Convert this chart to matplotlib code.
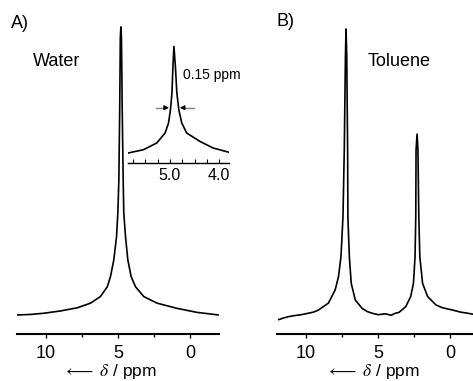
import matplotlib
matplotlib.use("Agg")
import matplotlib.pyplot as plt

plt.rcParams['font.family'] = ['Liberation Sans', 'DejaVu Sans']
plt.rcParams['mathtext.fontset'] = 'stix'

# water spectrum (ppm, intensity)
water_ppm = [11.95, 11.0, 10.12, 8.97, 7.81, 6.90, 6.21, 5.74, 5.52, 5.29, 5.10, 5.01,
             4.94, 4.88, 4.84, 4.80, 4.76, 4.71, 4.64, 4.60, 4.48, 4.32, 4.09, 3.79,
             3.22, 2.30, 0.92, -0.46, -1.95]
water_int = [0.0, 0.2, 0.6, 1.4, 2.5, 4.1, 6.4, 9.8, 13.3, 19.1, 27.2, 35.4,
             46.9, 72.0, 96.0, 100.0, 96.0, 72.0, 46.9, 35.4, 27.2, 19.1, 13.3, 9.8,
             6.4, 4.1, 2.3, 0.9, 0.0]

# inset: zoom of the water line
inset_ppm = [5.85, 5.54, 5.27, 5.10, 5.03, 4.99, 4.96, 4.94, 4.92, 4.89, 4.86, 4.82,
             4.76, 4.66, 4.39, 4.12, 3.79]
inset_int = [9.7, 13.0, 19.7, 29.7, 39.7, 53.0, 69.7, 96.3, 116.3, 96.3, 69.7, 53.0,
             39.7, 29.7, 21.3, 14.7, 10.3]
inset_ticks = [5.75, 5.5, 5.25, 5.0, 4.75, 4.5, 4.25, 4.0]
inset_ticklabels = ['', '', '', '5.0', '', '', '', '4.0']

# toluene spectrum
tol_ppm = [11.85, 11.56, 11.2, 10.75, 10.3, 9.82, 9.45, 9.12, 8.43, 7.96, 7.73, 7.56,
           7.42, 7.33, 7.25, 7.21, 7.16, 7.10, 7.08, 6.98, 6.85, 6.57, 6.10, 5.75,
           5.40, 5.0, 4.48, 4.1, 3.80, 3.55, 3.08, 2.74, 2.55, 2.44, 2.39, 2.37,
           2.30, 2.24, 2.18, 2.11, 1.92, 1.57, 1.00, 0.6, 0.2, -0.17, -0.7, -1.2, -1.65]
tol_int = [-1.6, -1.1, -0.6, -0.2, 0.1, 0.6, 1.0, 1.7, 4.1, 8.7, 13.3, 20.2,
           34.1, 57.3, 90.0, 99.3, 90.0, 57.3, 34.1, 20.2, 11.0, 5.2, 2.3, 1.2,
           0.6, 0.1, 0.4, -0.1, 0.6, 0.9, 2.9, 6.4, 11.0, 20.2, 34.1, 57.3,
           62.8, 57.3, 34.1, 20.2, 11.0, 6.4, 3.5, 2.6, 2.1, 1.7, 1.0, 0.6, 0.2]

major_ticks = [10, 5, 0]
minor_ticks = [7.5, 2.5]

fig = plt.figure(figsize=(4.73, 3.81), dpi=100)

def style_axis(ax):
    for s in ['top', 'left', 'right']:
        ax.spines[s].set_visible(False)
    ax.spines['bottom'].set_linewidth(1.5)
    ax.set_yticks([])
    ax.patch.set_visible(False)
    ax.set_xlim(12, -2)
    ax.set_ylim(-6.6, 102.4)
    ax.set_xticks(major_ticks)
    ax.set_xticks(minor_ticks, minor=True)
    ax.tick_params(axis='x', which='major', length=3, width=1, labelsize=13, pad=5)
    ax.tick_params(axis='x', which='minor', length=2, width=1)

axA = fig.add_axes([0.0353, 0.1234, 0.4283, 0.8241])
style_axis(axA)
axA.plot(water_ppm, water_int, color='black', lw=1.2)
axA.set_xlabel(r'$\longleftarrow\ \delta$ / ppm', fontsize=12.5)
axA.xaxis.set_label_coords(0.46, -0.118)
axA.xaxis.label.set_va('center')

axB = fig.add_axes([0.585, 0.1234, 0.4283, 0.8241])
style_axis(axB)
axB.plot(tol_ppm, tol_int, color='black', lw=1.2)
axB.set_xlabel(r'$\longleftarrow\ \delta$ / ppm', fontsize=12.5)
axB.xaxis.set_label_coords(0.473, -0.118)
axB.xaxis.label.set_va('center')

fig.text(11 / 473, 1 - 24 / 381, 'A)', fontsize=13, va='center')
fig.text(276 / 473, 1 - 22 / 381, 'B)', fontsize=13, va='center')
fig.text(33 / 473, 1 - 62 / 381, 'Water', fontsize=13, va='center')
fig.text(368 / 473, 1 - 62 / 381, 'Toluene', fontsize=13, va='center')

# inset
ins = fig.add_axes([0.2713, 0.573, 0.2135, 0.322])
for s in ['top', 'left', 'right']:
    ins.spines[s].set_visible(False)
ins.spines['bottom'].set_linewidth(1.0)
ins.patch.set_visible(False)
ins.set_yticks([])
ins.set_xlim(5.85, 3.79)
ins.set_ylim(0, 122.7)
ins.set_xticks(inset_ticks)
ins.set_xticklabels(inset_ticklabels)
ins.tick_params(axis='x', direction='in', length=3, width=0.8, labelsize=11.5, pad=4)
ins.plot(inset_ppm, inset_int, color='black', lw=1.2)

half_height = 55
ins.plot([5.29, 5.08], [half_height, half_height], color='gray', lw=1.0)
ins.plot([4.52, 4.75], [half_height, half_height], color='gray', lw=1.0)
ins.annotate('', xy=(5.02, half_height), xytext=(5.10, half_height),
             arrowprops=dict(arrowstyle='-|>', color='black', lw=0.8, mutation_scale=7,
                             shrinkA=0, shrinkB=0))
ins.annotate('', xy=(4.80, half_height), xytext=(4.72, half_height),
             arrowprops=dict(arrowstyle='-|>', color='black', lw=0.8, mutation_scale=7,
                             shrinkA=0, shrinkB=0))
ins.text(4.74, 87.7, '0.15 ppm', fontsize=10, va='center', ha='left')

fig.savefig('out.png', dpi=100)
